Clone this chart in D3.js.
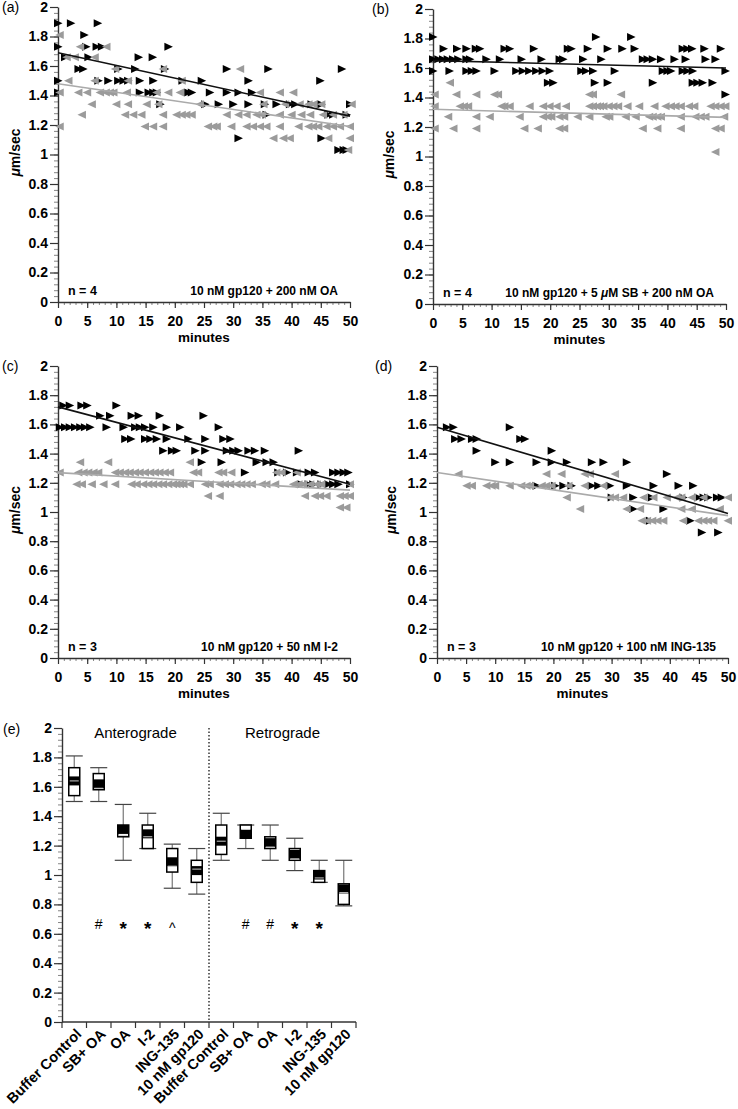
<!DOCTYPE html>
<html><head><meta charset="utf-8">
<script src="https://cdn.jsdelivr.net/npm/d3@7"></script>
<style>
body{margin:0;background:#fff;}
svg{display:block;}
</style></head><body>
<svg id="chart" width="738" height="1109"></svg>
<script>
// ---------------- DATA ----------------
// scatter panels: each row = [speed (µm/sec), [minutes...]]
const antA = [
 [1.89,[0,2.2,6.8]],
 [1.81,[4.5]],
 [1.73,[0,4.8,6.6,7.5,18.9]],
 [1.66,[1.2,5.2,13.8,16.2]],
 [1.58,[3.5,4.3,10.3,13.2,18.3,28.9,36,48.6]],
 [1.50,[0,6.9,8.6,10.3,11.2,12,14,16.3,21.3,24.6,32.6,44.9]],
 [1.42,[0,14,15.5,16.3,16.9,22.3,22.9,26,28.9,30.9,33.2]],
 [1.34,[17.5,25.2,27.5,30,32.6,35.4,37.4,39.7,40.6,43.4,45.1,50]],
 [1.27,[35.7,46.3,47.1,49.4]],
 [1.11,[30.9,45.1]],
 [1.03,[48,48.9,49.4]]
];
const retA = [
 [1.81,[0.3]],
 [1.73,[3.8,8.3]],
 [1.66,[1.5,2.9,6.3]],
 [1.58,[9.8,18,31.2]],
 [1.50,[1.8,6.3,12,21.2]],
 [1.42,[0.3,3.5,5,7.2,8.2,8.9,9.5,11.8,16.9,18.9,20.9,34.6,38,40.3]],
 [1.34,[5.8,10,12,15.2,17.2,24.3,35.2,38.9,41.4,42.9,43.7,45.1,50.3]],
 [1.27,[4.1,11.5,12.9,14.3,18,20.3,21.2,22,22.9,28.9,30.9,32.3,34,34.9,38,40,41.7,43.2,45.4,47.1,48.9]],
 [1.19,[0.3,14.9,16.3,18,25.7,26.6,27.2,29.7,32.3,33.4,34.6,35.7,38,41.2,42.9,43.7,44.6,46,47.1,48.3,50]],
 [1.11,[36.9,38.6,39.7,46.3,50]],
 [1.03,[49.7]]
];
const antB = [
 [1.81,[0,27.8,33.8]],
 [1.73,[1.8,4.1,5.7,7.3,8,12.2,13.1,17.2,23,23.6,26.4,29.8,32.3,34.4,42.6,43.4,44.2,46.3,49.1]],
 [1.66,[0,0.9,1.7,2.5,3.4,4.3,5.7,6.3,9.1,11.4,15.1,18.5,21.6,22.2,25.6,28.7,35.8,36.6,37.5,38.9,41.2,43.1,46.5,48.2]],
 [1.58,[0,2.8,5.7,6.6,7.4,10.5,14.2,15.3,16.4,17.6,18.7,19.9,25.3,26.1,27.3,31,39.2,40,40.6,42.6,43.4,44.3,49.9]],
 [1.50,[19.6,20.5,27.6,29.8,37.5,44.3,45.1,46,47.7]],
 [1.42,[49.9]]
];
const retB = [
 [1.50,[2.9]],
 [1.42,[0.3,4,7.4,10.5,11.1,26.7,27.3,32.1]],
 [1.34,[0.3,4.6,5.3,6,11.7,12.2,13.1,16.5,18.8,19.9,21.1,22.7,26.7,27.3,28,28.5,29.1,30,30.8,31.6,33.2,35.2,37.8,39.7,40.6,41.4,42.3,43.7,44.6,47.4,48.2,49.1,49.9]],
 [1.27,[2.6,7.4,9.7,14.8,18.8,19.6,20.2,21.6,22.4,24.7,26.7,29.5,30.1,32.9,34.6,36.9,37.5,38.3,38.9,42.3,44.8,45.7,46.5,49.7]],
 [1.19,[0.3,3.5,7.4,15.6,17.9,21.6,22.4,35.8,38.3,42.3,48.2,49.1]],
 [1.03,[48.2]]
];
const antC = [
 [1.73,[0.9,2,4,5,10]],
 [1.66,[7.2,8.9,12.6,13.8,17.4,24.9]],
 [1.58,[0.3,1.2,2,2.9,3.8,4.6,5.5,8.3,11.2,13.2,14,14.9,16.3,18.6,20.9,27.5]],
 [1.50,[11.5,12.5,14.9,15.8,16.9,18.6,22.3,25.2,28.3,29.5]],
 [1.42,[18,19.5,20.3,23.5,25.2,28.9,30,30.9,32.6,33.7,35.4,41.2]],
 [1.34,[24.6,28,34,35.7,36.9]],
 [1.27,[32,37.7,39.2,40.9,42.9,44,47.1,48,48.9,49.7]],
 [1.19,[41.7,42.9,43.7,45.1,46.3,47.1,48,50]]
];
const retC = [
 [1.34,[3.8,8.6,22.6]],
 [1.27,[0.3,3.5,4.4,5.2,6.1,6.9,9.8,10.6,11.5,12.3,13.2,14,14.9,15.8,16.6,17.4,18.3,19.2,23.2,24,27.5,28.3,29.7,37.4,38.3,40.9]],
 [1.19,[3.2,4.1,5.8,7.8,9.8,12.6,13.5,14.6,15.5,16.3,17.2,18,18.9,19.7,20.3,20.9,21.5,22.6,25.2,26,27.7,28.6,29.5,30.6,31.4,32.3,33.2,34.9,35.7,37.2,40.3,41.2,42,43.2,44.3,45.1,50]],
 [1.11,[25.7,27.7,42.3,44,44.9,46,48.3,49.1,50]],
 [1.03,[48.3,49.4]]
];
const antD = [
 [1.58,[1.7,2.8,12.5]],
 [1.50,[3.1,4.2,6,6.8,14.3,15.1]],
 [1.42,[6.8,19.7]],
 [1.34,[10,12.5,17.1,19.7,22.3,26.6,28.6,32.6]],
 [1.26,[39.5]],
 [1.18,[17.1,20.3,21.7,23.1,26.6,27.7,29.7,32.6,37.2,41.5,44]],
 [1.10,[30,33.7,36.9,42.3,44.9,45.8,46.6,48.1,48.9]],
 [1.02,[33.7,38.9]],
 [0.94,[36.6,43.5]],
 [0.86,[45.5,48.3]]
];
const retD = [
 [1.26,[3.7,18.8,21.4,25.4,26.3,30.6]],
 [1.18,[5.1,6,8.5,9.4,10,12.5,14.5,15.4,16,18,18.8,19.7,22.6,25.4,28.6]],
 [1.10,[22.3,29.7,30.6,32,35.5,37.2,39.5,41.2,42,43.8,45.8,50]],
 [1.02,[24.6,32.6,34.9,42,43.8,48.6]],
 [0.94,[35.2,36.1,37,37.9,38.9,42.3,44.9,45.8,46.6,47.5,50]]
];
// trend lines: [value at 0 min, value at 50 min]
const trendAntA = [1.69, 1.26], trendRetA = [1.48, 1.19];
const trendAntB = [1.65, 1.60], trendRetB = [1.32, 1.265];
const trendAntC = [1.72, 1.19], trendRetC = [1.27, 1.15];
const trendAntD = [1.58, 0.99], trendRetD = [1.27, 0.975];
const panelTexts = [
 ["(a)","n = 4","10 nM gp120 + 200 nM OA"],
 ["(b)","n = 4","10 nM gp120 + 5 μM SB + 200 nM OA"],
 ["(c)","n = 3","10 nM gp120 + 50 nM I-2"],
 ["(d)","n = 3","10 nM gp120 + 100 nM ING-135"]
];
const yTicks = [0,0.2,0.4,0.6,0.8,1,1.2,1.4,1.6,1.8,2];
const xTicks = [0,5,10,15,20,25,30,35,40,45,50];

// panel (e) box plot
const groups = ["Anterograde","Retrograde"];
const boxCats = ["Buffer Control","SB+ OA","OA","I-2","ING-135","10 nM gp120",
                 "Buffer Control","SB+ OA","OA","I-2","ING-135","10 nM gp120"];
const boxLow  = [1.50,1.50,1.10,1.18,0.91,0.87, 1.10,1.18,1.10,1.03,0.95,0.79];
const boxQ1   = [1.54,1.58,1.26,1.18,1.02,0.95, 1.14,1.25,1.18,1.10,0.95,0.80];
const boxMed  = [1.64,1.59,1.27,1.26,1.06,1.04, 1.23,1.31,1.19,1.11,0.98,0.88];
const boxQ3   = [1.73,1.69,1.34,1.34,1.18,1.10, 1.34,1.34,1.26,1.18,1.03,0.94];
const boxHigh = [1.81,1.73,1.48,1.42,1.21,1.18, 1.42,1.34,1.34,1.25,1.10,1.10];
const boxMean = [1.64,1.62,1.31,1.28,1.09,1.03, 1.23,1.28,1.22,1.14,1.00,0.905];
const sigMarks = ["","#","*","*","^","", "","#","#","*","*",""];
const sigLevel = 0.667;

// ---------------- LAYOUT ----------------
const FONT = "'Liberation Sans', Arial, Helvetica, sans-serif";
const GREY = "#9b9b9b";
const layouts = [
 {x0:58,  x1:350, yTop:7,   yBot:302, lx:2,   ylx:15},
 {x0:433, x1:726, yTop:9,   yBot:304, lx:372, ylx:389},
 {x0:58,  x1:350, yTop:366, yBot:658, lx:2,   ylx:15},
 {x0:437, x1:728, yTop:366, yBot:658, lx:375, ylx:391}
];
const scatterData = [[antA,retA,trendAntA,trendRetA],[antB,retB,trendAntB,trendRetB],
                     [antC,retC,trendAntC,trendRetC],[antD,retD,trendAntD,trendRetD]];

const svg = d3.select("#chart");
svg.append("rect").attr("width",738).attr("height",1109).attr("fill","#fff");
const fmtTick = d => d3.format(".1f")(d).replace(/\.0$/,"");

function styleText(sel, size, weight){
  sel.attr("font-family",FONT).attr("font-size",size).attr("font-weight",weight||"bold").attr("fill","#000");
}
function drawYAxis(y, x0){
  const minor = d3.range(0, 2.0001, 0.04);
  svg.append("g").attr("transform",`translate(${x0},0)`)
    .call(d3.axisLeft(y).tickValues(minor).tickSize(4).tickFormat("").tickSizeOuter(0))
    .call(a=>{a.select(".domain").remove(); a.selectAll("line").attr("stroke","#666").attr("stroke-width",0.8);});
  svg.append("g").attr("transform",`translate(${x0},0)`)
    .call(d3.axisLeft(y).tickValues(yTicks).tickSize(8).tickPadding(2).tickFormat(fmtTick).tickSizeOuter(0))
    .call(a=>{a.select(".domain").attr("stroke","#333").attr("stroke-width",1.4);
      a.selectAll("line").attr("stroke","#333").attr("stroke-width",1.2);
      styleText(a.selectAll("text"),14);});
}

// ---------------- SCATTER PANELS ----------------
const triR = d3.symbol().type({draw:(ctx)=>{ctx.moveTo(-4,-4);ctx.lineTo(4.5,0);ctx.lineTo(-4,4);ctx.closePath();}})();
const triL = d3.symbol().type({draw:(ctx)=>{ctx.moveTo(4,-4);ctx.lineTo(-4.5,0);ctx.lineTo(4,4);ctx.closePath();}})();

layouts.forEach((L,i)=>{
  const [ant, ret, tAnt, tRet] = scatterData[i];
  const x = d3.scaleLinear().domain([0,50]).range([L.x0,L.x1]);
  const y = d3.scaleLinear().domain([0,2]).range([L.yBot,L.yTop]);
  drawYAxis(y, L.x0);
  // x axis
  svg.append("g").attr("transform",`translate(0,${L.yBot})`)
    .call(d3.axisBottom(x).tickValues(d3.range(0,51,1)).tickSize(3).tickFormat("").tickSizeOuter(0))
    .call(a=>{a.select(".domain").remove(); a.selectAll("line").attr("stroke","#666").attr("stroke-width",0.8);});
  svg.append("g").attr("transform",`translate(0,${L.yBot})`)
    .call(d3.axisBottom(x).tickValues(xTicks).tickSize(6).tickPadding(8).tickSizeOuter(0))
    .call(a=>{a.select(".domain").attr("stroke","#333").attr("stroke-width",1.4);
      a.selectAll("line").attr("stroke","#333").attr("stroke-width",1.2);
      styleText(a.selectAll("text"),14);});
  styleText(svg.append("text").attr("x",(L.x0+L.x1)/2).attr("y",L.yBot+40).attr("text-anchor","middle").text("minutes"),13.5);
  // y label
  const yl = svg.append("text").attr("transform",`translate(${L.ylx},${(L.yTop+L.yBot)/2-2}) rotate(-90)`)
    .attr("text-anchor","middle").attr("dy","0.35em");
  styleText(yl,14);
  yl.append("tspan").attr("font-style","italic").text("μ");
  yl.append("tspan").text("m/sec");
  // panel label
  styleText(svg.append("text").attr("x",L.lx).attr("y",L.yTop+5).text(panelTexts[i][0]),14,"normal");
  // points
  const flat = rows => rows.flatMap(([v,ms])=>ms.map(m=>({m,v})));
  svg.append("g").selectAll("path").data(flat(ant)).join("path")
    .attr("d",triR).attr("fill","#000")
    .attr("transform",d=>`translate(${x(d.m)},${y(d.v)})`);
  svg.append("g").selectAll("path").data(flat(ret)).join("path")
    .attr("d",triL).attr("fill",GREY)
    .attr("transform",d=>`translate(${x(d.m)},${y(d.v)})`);
  // trend lines
  const line = d3.line().x(d=>x(d[0])).y(d=>y(d[1]));
  svg.append("path").attr("d",line([[0,tRet[0]],[50,tRet[1]]])).attr("stroke","#aaa").attr("stroke-width",1.6).attr("fill","none");
  svg.append("path").attr("d",line([[0,tAnt[0]],[50,tAnt[1]]])).attr("stroke","#111").attr("stroke-width",1.6).attr("fill","none");
  // annotations
  styleText(svg.append("text").attr("x",L.x0+10).attr("y",L.yBot-7).text(panelTexts[i][1]),12.5);
  const ct = svg.append("text").attr("x",L.x1-12).attr("y",L.yBot-7).attr("text-anchor","end");
  styleText(ct,12);
  const parts = panelTexts[i][2].split("μ");
  parts.forEach((p,k)=>{ if(k>0) ct.append("tspan").attr("font-style","italic").text("μ"); ct.append("tspan").text(p); });
});

// ---------------- PANEL (e) ----------------
(function(){
  const E = {x0:62, x1:356, yTop:728, yBot:1022};
  const x = d3.scaleBand().domain(d3.range(boxCats.length)).range([E.x0,E.x1]).padding(0);
  const y = d3.scaleLinear().domain([0,2]).range([E.yBot,E.yTop]);
  drawYAxis(y, E.x0);
  // x axis with ticks at band boundaries
  const bounds = d3.range(boxCats.length+1).map(i=>E.x0 + i*x.bandwidth());
  const gx = svg.append("g");
  gx.append("line").attr("x1",E.x0).attr("x2",E.x1).attr("y1",E.yBot).attr("y2",E.yBot).attr("stroke","#333").attr("stroke-width",1.4);
  gx.selectAll("line.t").data(bounds).join("line").attr("class","t")
    .attr("x1",d=>d).attr("x2",d=>d).attr("y1",E.yBot).attr("y2",E.yBot+6).attr("stroke","#333").attr("stroke-width",1.2);
  gx.selectAll("text").data(boxCats).join("text")
    .attr("transform",(d,i)=>`translate(${x(i)+x.bandwidth()/2+8},${E.yBot+13}) rotate(-45)`)
    .attr("text-anchor","end").text(d=>d)
    .call(s=>styleText(s,14.5));
  // divider
  const xd = bounds[6];
  svg.append("line").attr("x1",xd).attr("x2",xd).attr("y1",E.yTop).attr("y2",E.yBot)
    .attr("stroke","#000").attr("stroke-width",1.2).attr("stroke-dasharray","1.5,2");
  // group titles
  [0,1].forEach(g=>{
    const cx = (bounds[g*6]+bounds[g*6+6])/2;
    styleText(svg.append("text").attr("x",cx).attr("y",y(1.93)).attr("text-anchor","middle").text(groups[g]),15,"normal");
  });
  styleText(svg.append("text").attr("x",3).attr("y",E.yTop+6).text("(e)"),14,"normal");
  const bw = 11, cw = 17, mh = 9;
  const gb = svg.append("g");
  boxCats.forEach((c,i)=>{
    const cx = x(i)+x.bandwidth()/2;
    // whiskers
    gb.append("line").attr("x1",cx).attr("x2",cx).attr("y1",y(boxHigh[i])).attr("y2",y(boxQ3[i])).attr("stroke","#777").attr("stroke-width",1.2);
    gb.append("line").attr("x1",cx).attr("x2",cx).attr("y1",y(boxLow[i])).attr("y2",y(boxQ1[i])).attr("stroke","#777").attr("stroke-width",1.2);
    [boxHigh[i],boxLow[i]].forEach(v=>gb.append("line").attr("x1",cx-cw/2).attr("x2",cx+cw/2).attr("y1",y(v)).attr("y2",y(v)).attr("stroke","#444").attr("stroke-width",1.2));
    // box
    gb.append("rect").attr("x",cx-bw/2).attr("width",bw).attr("y",y(boxQ3[i])).attr("height",Math.max(0.5,y(boxQ1[i])-y(boxQ3[i])))
      .attr("fill","#fff").attr("stroke","#000").attr("stroke-width",1.5);
    // mean marker
    gb.append("rect").attr("x",cx-bw/2).attr("width",bw).attr("y",y(boxMean[i])-mh/2).attr("height",mh).attr("fill","#000");
    // median line
    gb.append("line").attr("x1",cx-bw/2+1).attr("x2",cx+bw/2-1).attr("y1",y(boxMed[i])).attr("y2",y(boxMed[i])).attr("stroke","#ccc").attr("stroke-width",1);
    // significance mark
    if(sigMarks[i]){
      const off = sigMarks[i]==="#" ? 5 : sigMarks[i]==="*" ? 11 : 9;
      const t = svg.append("text").attr("x",cx).attr("y",y(sigLevel)+off).attr("text-anchor","middle").text(sigMarks[i]);
      styleText(t, sigMarks[i]==="*"?19:14, sigMarks[i]==="*"?"bold":"normal");
    }
  });
})();
</script>
</body></html>
